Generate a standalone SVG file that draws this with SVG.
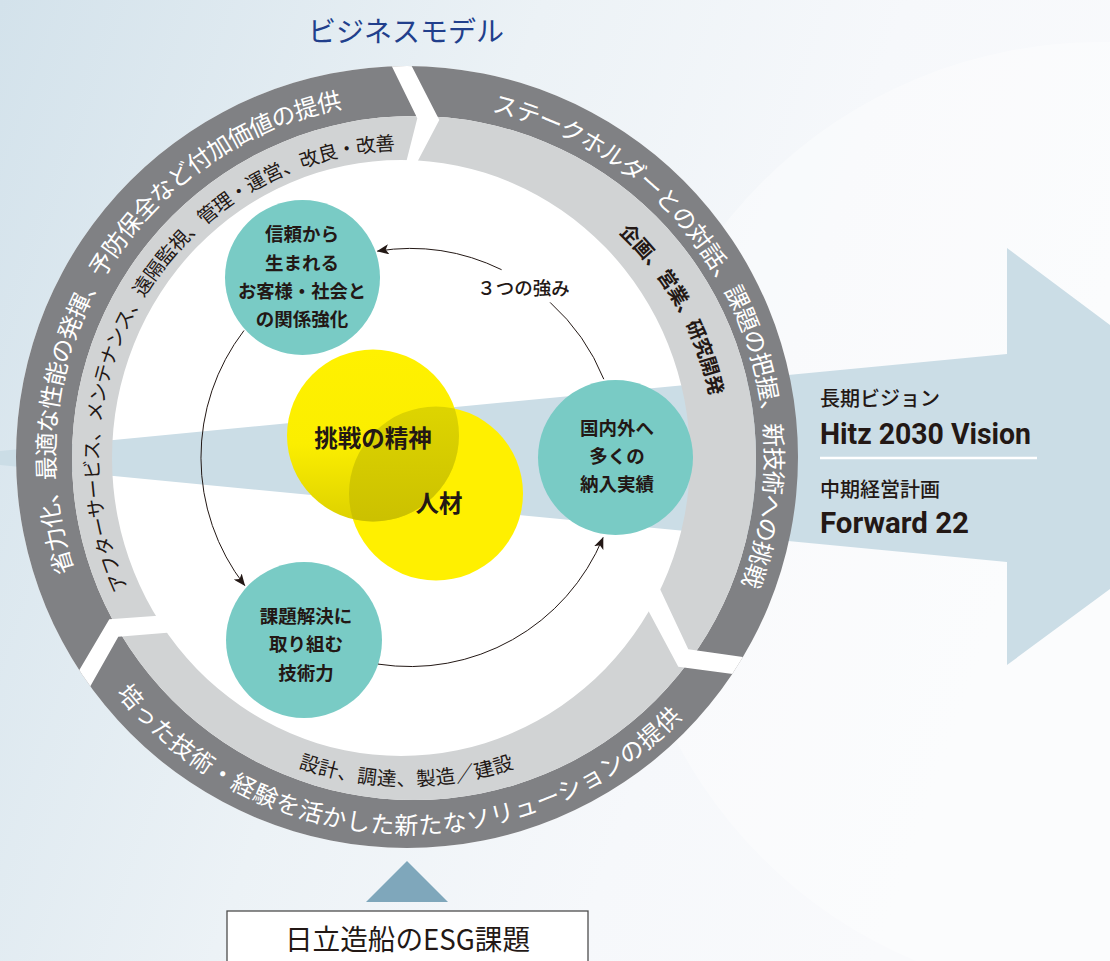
<svg xmlns="http://www.w3.org/2000/svg" xmlns:xlink="http://www.w3.org/1999/xlink" width="1110" height="961" viewBox="0 0 1110 961">
<style>
.jp{font-family:"Noto Sans CJK JP","Noto Sans CJK SC",sans-serif;}
.en{font-family:Roboto,"Liberation Sans",sans-serif;font-weight:bold;fill:#231815;}
.dk{fill:#808184;}
.lt{fill:#d1d3d4;}
.gap{fill:#ffffff;}
.teal{fill:#79cbc5;}
.ctxt{font-size:18.5px;fill:#231815;font-weight:bold;text-anchor:middle;dominant-baseline:central;}
.rw{fill:#ffffff;font-size:24px;text-anchor:middle;dominant-baseline:central;}
.rd{fill:#231815;font-size:19.5px;text-anchor:middle;dominant-baseline:central;}
.conn{fill:none;stroke:#231815;stroke-width:1;}
</style>
<defs>
<linearGradient id="bg" x1="0" y1="0" x2="1" y2="0.3">
<stop offset="0" stop-color="#d3e2eb"/>
<stop offset="0.45" stop-color="#ecf2f6"/>
<stop offset="0.75" stop-color="#f6f8fb"/>
<stop offset="1" stop-color="#f9fafc"/>
</linearGradient>
<linearGradient id="yA" gradientUnits="userSpaceOnUse" x1="0" y1="349" x2="0" y2="522">
<stop offset="0" stop-color="#fff100"/>
<stop offset="0.55" stop-color="#fbee00"/>
<stop offset="1" stop-color="#ddd100"/>
</linearGradient>
<linearGradient id="lens" gradientUnits="userSpaceOnUse" x1="0" y1="410" x2="0" y2="525">
<stop offset="0" stop-color="#ddd400"/>
<stop offset="1" stop-color="#cbc000"/>
</linearGradient>
<clipPath id="ringClip"><circle cx="407" cy="457" r="391"/></clipPath>
<clipPath id="clipB"><circle cx="436" cy="493.5" r="87"/></clipPath>
<marker id="ah" viewBox="0 0 12 10" refX="11.5" refY="5" markerWidth="12" markerHeight="10" markerUnits="userSpaceOnUse" orient="auto">
<path d="M0,0 L12,5 L0,10 L3,5 Z" fill="#231815"/>
</marker>
<path id="pTLd" d="M129.0,691.5 A366,366 0 0 1 474.5,96.7"/>
<path id="pTLl" d="M159.3,655.8 A317,317 0 0 1 469.7,147.2"/>
<path id="pRd" d="M360.0,94.4 A366,366 0 0 1 681.4,702.7"/>
<path id="pRl" d="M356.4,144.0 A318,318 0 0 1 647.6,665.9"/>
<path id="pBd" d="M61.0,567.3 A366,366 0 0 0 748.3,596.8"/>
<path id="pBl" d="M107.0,566.3 A319,319 0 0 0 706.5,567.9"/>
</defs>

<rect x="0" y="0" width="1110" height="961" fill="url(#bg)"/>
<circle cx="1100" cy="520" r="478" fill="#ffffff" opacity="0.35"/>

<text class="jp" x="406" y="30" font-size="28" fill="#213f8c" text-anchor="middle" dominant-baseline="central">ビジネスモデル</text>

<circle cx="407" cy="457" r="391" fill="#ffffff"/>
<polygon id="wedge" points="0,451 1007,354 1007,248 1288,458 1007,665 1007,562 0,465" fill="#cbdde6"/>

<g id="ring">
<path class="dk" fill-rule="evenodd" d="M16,457 A391,391 0 1 0 798,457 A391,391 0 1 0 16,457 Z M72,458 A342,342 0 1 0 756,458 A342,342 0 1 0 72,458 Z"/>
<path class="lt" fill-rule="evenodd" d="M72,458 A342,342 0 1 0 756,458 A342,342 0 1 0 72,458 Z M112,458 A289,298 0 1 0 690,458 A289,298 0 1 0 112,458 Z"/>
<g clip-path="url(#ringClip)">
<polygon class="gap" points="376.3,34.6 417.3,118.3 401.4,180.9 407.8,180 439.3,120 395.1,33.6"/>
<polygon class="gap" points="773.4,661.3 688.3,649.3 655.9,580.3 643.4,601.6 678.3,666.7 760.8,677.7"/>
<polygon class="gap" points="62.8,697.9 109.3,619.3 175.3,614.4 185.4,631.2 118.3,636.7 75.9,711.7"/>
</g>
</g>

<g id="ring-text" class="jp">
<text class="rw" dominant-baseline="central"><textPath href="#pTLd" startOffset="50%" dominant-baseline="central">省力化、最適な性能の発揮、予防保全など付加価値の提供</textPath></text>
<text class="rd" dominant-baseline="central"><textPath href="#pTLl" startOffset="50%" dominant-baseline="central">アフターサービス、メンテナンス、遠隔監視、管理・運営、改良・改善</textPath></text>
<text class="rw" font-size="24.4" dominant-baseline="central"><textPath href="#pRd" startOffset="50%" dominant-baseline="central">ステークホルダーとの対話、課題の把握、新技術への挑戦</textPath></text>
<text class="rd" font-size="20.3" font-weight="bold" fill="#1e2233" dominant-baseline="central"><textPath href="#pRl" startOffset="50%" dominant-baseline="central">企画、営業、研究開発</textPath></text>
<text class="rw" font-size="23.8" dominant-baseline="central"><textPath href="#pBd" startOffset="50%" dominant-baseline="central">培った技術・経験を活かした新たなソリューションの提供</textPath></text>
<text class="rd" font-size="20.3" dominant-baseline="central"><textPath href="#pBl" startOffset="50%" dominant-baseline="central">設計、調達、製造／建設</textPath></text>
</g>

<g id="node-core">
<circle cx="436" cy="493.5" r="87" fill="#fff000"/>
<circle cx="373" cy="435.5" r="86" fill="url(#yA)"/>
<circle cx="373" cy="435.5" r="86" fill="url(#lens)" clip-path="url(#clipB)"/>
<text class="jp" x="373" y="437" font-size="23.5" font-weight="bold" fill="#231815" text-anchor="middle" dominant-baseline="central">挑戦の精神</text>
<text class="jp" x="439" y="502" font-size="23.5" font-weight="bold" fill="#231815" text-anchor="middle" dominant-baseline="central">人材</text>
</g>

<g id="node-trust" class="jp">
<circle class="teal" cx="302.5" cy="277.5" r="77.5"/>
<text class="ctxt" x="302" y="233">信頼から</text>
<text class="ctxt" x="302" y="262">生まれる</text>
<text class="ctxt" x="302" y="290" textLength="128" lengthAdjust="spacingAndGlyphs">お客様・社会と</text>
<text class="ctxt" x="302" y="318">の関係強化</text>
</g>

<g id="node-tech" class="jp">
<circle class="teal" cx="304" cy="640" r="78"/>
<text class="ctxt" x="306" y="615">課題解決に</text>
<text class="ctxt" x="306" y="643">取り組む</text>
<text class="ctxt" x="306" y="672">技術力</text>
</g>

<g id="node-record" class="jp">
<circle class="teal" cx="615.5" cy="457.5" r="77.5"/>
<text class="ctxt" x="617" y="427">国内外へ</text>
<text class="ctxt" x="617" y="455">多くの</text>
<text class="ctxt" x="617" y="483">納入実績</text>
</g>

<g id="connectors">
<path class="conn" d="M501.6,269.7 A209,209 0 0 0 377.3,251.1" marker-end="url(#ah)"/>
<path class="conn" d="M244.0,330.5 A209,209 0 0 0 244.8,585.6" marker-end="url(#ah)"/>
<path class="conn" d="M378.0,664.1 A209,209 0 0 0 603.1,537.5" marker-end="url(#ah)"/>
<path class="conn" d="M603.8,379.2 A209,209 0 0 0 550.1,302.4"/>
<text class="jp" x="523.5" y="287" font-size="18.5" font-weight="500" fill="#231815" text-anchor="middle" dominant-baseline="central">３つの強み</text>
</g>

<g id="vision">
<text class="jp" x="820" y="397" font-size="20" font-weight="500" fill="#231815" dominant-baseline="central">長期ビジョン</text>
<text class="en" x="820" y="444" font-size="29" textLength="211" lengthAdjust="spacingAndGlyphs">Hitz 2030 Vision</text>
<line x1="820" y1="458" x2="1037" y2="458" stroke="#ffffff" stroke-width="2.5"/>
<text class="jp" x="820" y="488" font-size="20" font-weight="500" fill="#231815" dominant-baseline="central">中期経営計画</text>
<text class="en" x="820" y="533" font-size="30" textLength="149" lengthAdjust="spacingAndGlyphs">Forward 22</text>
</g>

<g id="esg">
<polygon points="407,861 366,902 448,902" fill="#7fa7bb"/>
<rect x="227" y="911" width="361" height="70" fill="#ffffff" stroke="#4d4d4d" stroke-width="1.3"/>
<text class="jp" x="407.5" y="938" font-size="28" fill="#231815" text-anchor="middle" dominant-baseline="central" textLength="245" lengthAdjust="spacingAndGlyphs">日立造船のESG課題</text>
</g>
</svg>
